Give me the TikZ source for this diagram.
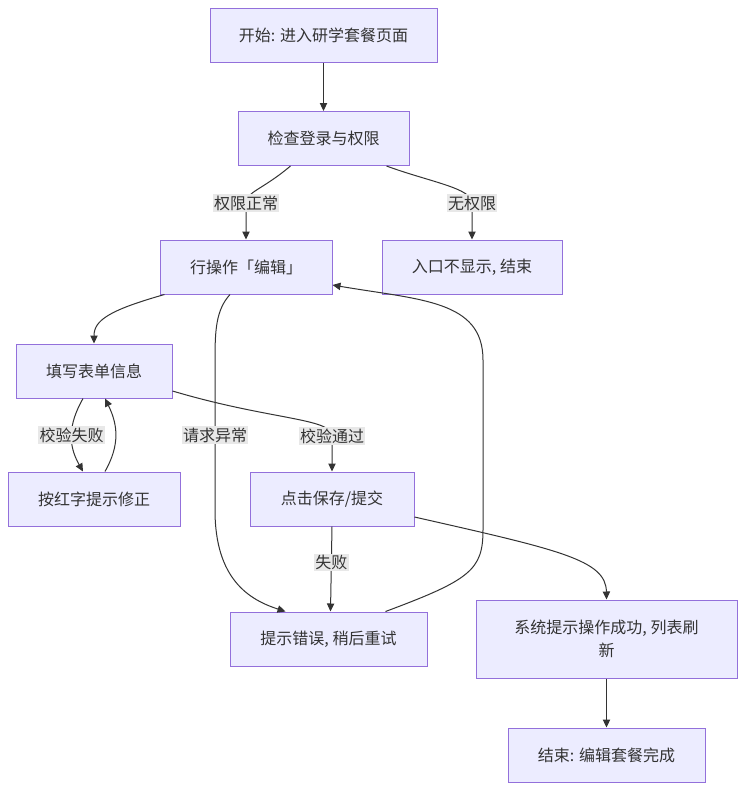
\documentclass[tikz,border=0pt]{standalone}
\usepackage{fontspec}
\setmainfont{Noto Sans CJK SC}
\usetikzlibrary{arrows.meta,calc}

\definecolor{boxfill}{HTML}{ECECFF}
\definecolor{boxline}{HTML}{9370DB}
\definecolor{ink}{HTML}{333333}
\definecolor{lblfill}{HTML}{E8E8E8}

\tikzset{
  box/.style={draw=boxline, fill=boxfill, line width=0.75pt, text=ink, minimum height=40.5pt, inner sep=0pt, font=\fontsize{12}{17}\selectfont},
  lbl/.style={fill=lblfill, text=ink, inner sep=1pt, font=\fontsize{12}{14}\selectfont},
  flow/.style={draw=ink, line width=0.75pt, -{Triangle[length=6pt,width=5.5pt]}},
}

\begin{document}
\begin{tikzpicture}[x=0.75pt,y=-0.75pt]%
\useasboundingbox[fill=white] (0,0) rectangle (744,790);%
% nodes
\node[box, minimum width=170.25pt] (start) at (323.5,35) {开始: 进入研学套餐页面};%
\node[box, minimum width=128.25pt] (check) at (323.5,138.5) {检查登录与权限};%
\node[box, minimum width=129pt] (edit) at (246,267) {行操作「编辑」};%
\node[box, minimum width=135pt] (noauth) at (472,267) {入口不显示, 结束};%
\node[box, minimum width=117pt] (fill) at (94,371) {填写表单信息};%
\node[box, minimum width=129pt] (fix) at (94,499) {按红字提示修正};%
\node[box, minimum width=123pt] (save) at (332,499) {点击保存/提交};%
\node[box, minimum width=147.75pt] (err) at (328.5,639) {提示错误, 稍后重试};%
\node[box, minimum width=195.75pt, minimum height=58.5pt, align=center] (ok) at (606.5,639) {系统提示操作成功, 列表刷\\新};%
\node[box, minimum width=147.75pt] (end) at (606.5,755) {结束: 编辑套餐完成};%
% connectors
\draw[flow] (start) -- (check);%
\draw[flow] ($(check.south)+(-33,0)$) .. controls (262,190) and (246,192) .. (246,203) node[lbl] {权限正常} -- (edit.north);%
\draw[flow] ($(check.south)+(63,0)$) .. controls (430,182) and (472,188) .. (472,203) node[lbl] {无权限} -- (noauth.north);%
\draw[flow] ($(edit.south west)+(5,0)$) .. controls (110,310) and (94,320) .. (fill.north);%
\draw[flow] ($(fill.south)+(-11,0)$) .. controls (68,425) and (68,445) .. node[lbl, pos=0.5] {校验失败} ($(fix.north)+(-11,0)$);%
\draw[flow] ($(fix.north)+(11,0)$) .. controls (120,445) and (118,425) .. ($(fill.south)+(11,0)$);%
\draw[flow] ($(fill.east)+(0,20)$) .. controls (270,420) and (332,418) .. (332,436) node[lbl] {校验通过} -- (save.north);%
\draw[flow] ($(edit.south)+(-16,0)$) .. controls (216,310) and (215,330) .. (215,360) -- node[lbl] {请求异常} (215,510) .. controls (215,580) and (250,600) .. ($(err.north)+(-43,0)$);%
\draw[flow] ($(err.north)+(57,0)$) .. controls (470,580) and (483,570) .. (483,530) -- (483,360) .. controls (483,300) and (420,300) .. ($(edit.east)+(0,18)$);%
\draw[flow] (save.south) -- node[lbl, pos=0.42] {失败} ($(err.north)+(2,0)$);%
\draw[flow] ($(save.east)+(0,18)$) .. controls (560,550) and (606,560) .. (ok.north);%
\draw[flow] (ok) -- (end);%
\end{tikzpicture}
\end{document}
